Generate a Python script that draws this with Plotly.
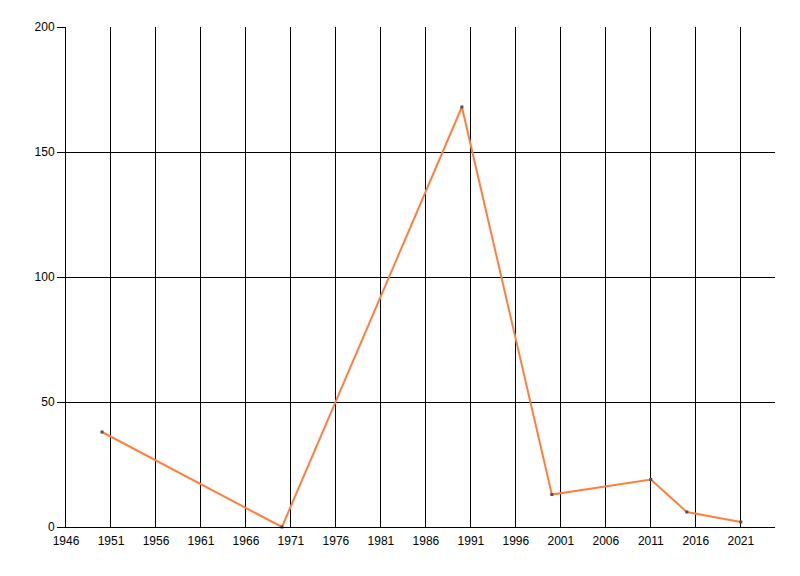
import plotly.graph_objects as go

years = [1950, 1970, 1990, 2000, 2011, 2015, 2021]
values = [38, 0, 168, 13, 19, 6, 2]
x_ticks = list(range(1946, 2022, 5))
y_ticks = [0, 50, 100, 150, 200]

fig = go.Figure()
fig.add_trace(go.Scatter(
    x=years, y=values, mode="lines+markers",
    line=dict(color="#FF7F3F", width=2),
    marker=dict(color="#505050", size=3, symbol="square"),
    showlegend=False, cliponaxis=False,
))

fig.update_layout(
    width=792, height=568,
    margin=dict(l=58, r=25, t=19, b=49),
    paper_bgcolor="white", plot_bgcolor="white",
    font=dict(family="Liberation Sans, Arial, sans-serif", size=12, color="black"),
)
fig.update_xaxes(
    range=[1946, 2024.8], tickvals=x_ticks, ticktext=[str(v) for v in x_ticks],
    showgrid=True, gridcolor="black", gridwidth=1,
    showline=True, linecolor="black", linewidth=1,
    ticks="outside", ticklen=3, tickcolor="rgba(0,0,0,0)",
    zeroline=False,
)
fig.update_yaxes(
    range=[0, 200], tickvals=y_ticks,
    showgrid=True, gridcolor="black", gridwidth=1,
    showline=True, linecolor="black", linewidth=1,
    ticks="outside", ticklen=8, tickcolor="black",
    zeroline=False,
)

fig.write_html("out.html")
